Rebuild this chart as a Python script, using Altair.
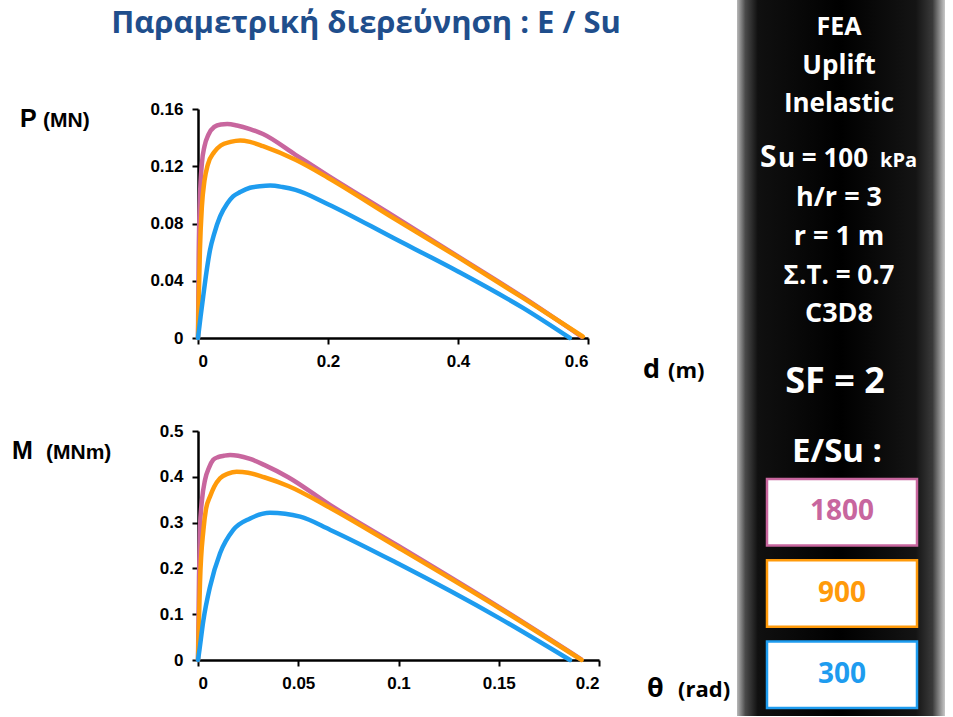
import altair as alt
import pandas as pd

# ---------------- data ----------------
E_labels = ["1800", "900", "300"]
E_colors = ["#C8669E", "#FF9A0A", "#1E9CEF"]

# P (MN) vs d (m)
d_1800 = [0, 0.001, 0.003, 0.006, 0.01, 0.016, 0.025, 0.035, 0.045, 0.06, 0.08, 0.1, 0.15, 0.2, 0.3, 0.4, 0.5, 0.59]
P_1800 = [0, 0.055, 0.098, 0.122, 0.134, 0.142, 0.1475, 0.1492, 0.1495, 0.1485, 0.146, 0.1425, 0.128, 0.1135, 0.0855, 0.057, 0.0285, 0.001]
d_900 = [0, 0.001, 0.003, 0.006, 0.01, 0.015, 0.025, 0.035, 0.05, 0.065, 0.08, 0.1, 0.15, 0.2, 0.3, 0.4, 0.5, 0.592]
P_900 = [0, 0.025, 0.062, 0.092, 0.110, 0.121, 0.130, 0.1345, 0.137, 0.138, 0.137, 0.134, 0.1245, 0.112, 0.084, 0.0565, 0.028, 0.001]
d_300 = [0, 0.004, 0.008, 0.013, 0.0185, 0.025, 0.034, 0.045, 0.054, 0.065, 0.08, 0.095, 0.111, 0.13, 0.15, 0.2, 0.3, 0.4, 0.5, 0.572]
P_300 = [0, 0.015, 0.029, 0.046, 0.0615, 0.073, 0.085, 0.094, 0.099, 0.102, 0.105, 0.106, 0.1065, 0.1055, 0.1035, 0.0935, 0.070, 0.0465, 0.021, 0.0]

# M (MNm) vs theta (rad)
th_1800 = [0, 0.0005, 0.001, 0.002, 0.0035, 0.0055, 0.0076, 0.01, 0.013, 0.016, 0.02, 0.026, 0.033, 0.045, 0.066, 0.1, 0.15, 0.191]
M_1800 = [0, 0.18, 0.29, 0.35, 0.393, 0.42, 0.437, 0.443, 0.446, 0.4476, 0.446, 0.439, 0.426, 0.399, 0.338, 0.249, 0.116, 0.002]
th_900 = [0, 0.0005, 0.001, 0.0027, 0.004, 0.006, 0.008, 0.011, 0.015, 0.0193, 0.025, 0.033, 0.045, 0.066, 0.1, 0.15, 0.1913]
M_900 = [0, 0.09, 0.17, 0.284, 0.33, 0.357, 0.378, 0.397, 0.407, 0.411, 0.409, 0.399, 0.380, 0.332, 0.245, 0.114, 0.0]
th_300 = [0, 0.0005, 0.0027, 0.006, 0.011, 0.0176, 0.026, 0.0359, 0.051, 0.066, 0.1, 0.15, 0.1855]
M_300 = [0, 0.015, 0.087, 0.160, 0.233, 0.284, 0.309, 0.3216, 0.313, 0.284, 0.210, 0.092, 0.0]

x_top_ticks = [0, 0.2, 0.4, 0.6]
y_top_ticks = [0, 0.04, 0.08, 0.12, 0.16]
x_bot_ticks = [0, 0.05, 0.1, 0.15, 0.2]
y_bot_ticks = [0, 0.1, 0.2, 0.3, 0.4, 0.5]

title_text = "Παραμετρική διερεύνηση : E / Su"


def frame(xs, ys, label, xn, yn):
    return pd.DataFrame({xn: xs, yn: ys, "E": label})


top_df = pd.concat([frame(d_1800, P_1800, "1800", "d", "P"),
                    frame(d_900, P_900, "900", "d", "P"),
                    frame(d_300, P_300, "300", "d", "P")], ignore_index=True)
bot_df = pd.concat([frame(th_1800, M_1800, "1800", "th", "M"),
                    frame(th_900, M_900, "900", "th", "M"),
                    frame(th_300, M_300, "300", "th", "M")], ignore_index=True)
legend_df = pd.DataFrame({"E": E_labels})
one = pd.DataFrame({"a": [0]})

# ---------------- helpers ----------------
cscale = alt.Scale(domain=E_labels, range=E_colors)
AX = dict(domainColor="black", domainWidth=2.5, tickColor="black", tickWidth=2,
          tickSize=6, labelFont="Liberation Sans", labelFontWeight="bold",
          labelFontSize=17, labelColor="black", grid=False, title=None, format="~g")


def txt(text, x, y, size, color="black", font="Open Sans", align="left",
        baseline="alphabetic", weight="bold"):
    return alt.Chart(one).mark_text(
        text=text, font=font, fontSize=size, fontWeight=weight, color=color,
        align=align, baseline=baseline
    ).encode(x=alt.value(x), y=alt.value(y))


def lines(df, xf, yf, xdom, ydom, xt, yt, w):
    return alt.Chart(df).mark_line(strokeWidth=4.5, strokeCap="round", strokeJoin="round",
                                   interpolate="monotone").encode(
        x=alt.X(f"{xf}:Q", scale=alt.Scale(domain=xdom, nice=False),
                axis=alt.Axis(values=xt, labelPadding=9, **AX)),
        y=alt.Y(f"{yf}:Q", scale=alt.Scale(domain=ydom, nice=False),
                axis=alt.Axis(values=yt, labelPadding=9, **AX)),
        color=alt.Color("E:N", scale=cscale, legend=None),
    ).properties(width=w, height=229)


top = alt.layer(
    lines(top_df, "d", "P", [0, 0.6], [0, 0.16], x_top_ticks, y_top_ticks, 390),
    txt(title_text, 168, -76, 31, color="#1F4E8C", align="center"),
    txt("P", -178, 18, 25, font="Liberation Sans"),
    txt("(MN)", -155, 18, 21, font="Liberation Sans"),
    txt("d", 445, 269, 27),
    txt("(m)", 470, 269, 22),
)

bottom = alt.layer(
    lines(bot_df, "th", "M", [0, 0.2], [0, 0.5], x_bot_ticks, y_bot_ticks, 401),
    txt("M", -186, 28, 25, font="Liberation Sans"),
    txt("(MNm)", -152, 28, 21, font="Liberation Sans"),
    txt("θ", 449, 266, 27),
    txt("(rad)", 480, 266, 22),
)

grad = alt.Gradient(
    gradient="linear", x1=0, x2=1, y1=0, y2=0,
    stops=[alt.GradientStop(offset=0, color="#b8b8b8"),
           alt.GradientStop(offset=0.04, color="#4a4a4a"),
           alt.GradientStop(offset=0.10, color="#101010"),
           alt.GradientStop(offset=0.5, color="#000000"),
           alt.GradientStop(offset=0.86, color="#141414"),
           alt.GradientStop(offset=0.94, color="#3a3a3a"),
           alt.GradientStop(offset=1, color="#c8c8c8")],
)

bg = alt.Chart(one).mark_rect(fill=grad).encode(
    x=alt.value(0), x2=alt.value(208), y=alt.value(-109), y2=alt.value(607))

ybox = alt.Y("E:N", scale=alt.Scale(domain=E_labels, range=[370, 599],
                                     paddingInner=0.18, paddingOuter=0), axis=None)
boxes = alt.Chart(legend_df).mark_rect(fill="white", strokeWidth=2.5).encode(
    x=alt.value(30), x2=alt.value(180), y=ybox,
    stroke=alt.Stroke("E:N", scale=cscale, legend=None))
box_text = alt.Chart(legend_df).mark_text(
    font="Open Sans", fontSize=28, fontWeight="bold", baseline="middle", align="center"
).encode(x=alt.value(105), y=ybox, text="E:N",
         color=alt.Color("E:N", scale=cscale, legend=None))

W = "white"
CX = 102
panel = alt.layer(
    bg,
    txt("FEA", CX, -74, 25, W, align="center"),
    txt("Uplift", CX, -35, 26, W, align="center"),
    txt("Inelastic", CX, 3, 26, W, align="center"),
    txt("S", 23, 58, 30, W),
    txt("u = 100", 41, 58, 26, W),
    txt("kPa", 143, 58, 20, W),
    txt("h/r = 3", CX, 97, 27, W, align="center"),
    txt("r = 1 m", CX, 136, 27, W, align="center"),
    txt("Σ.Τ. = 0.7", CX, 175, 26, W, align="center"),
    txt("C3D8", CX, 213, 27, W, align="center"),
    txt("SF = 2", 98, 284, 36, W, align="center"),
    txt("E/Su :", 100, 353, 33, W, align="center"),
    boxes,
    box_text,
).properties(width=208, height=551)

left = alt.vconcat(top, bottom, spacing=93, bounds="flush")
chart = alt.hconcat(left, panel, spacing=539, bounds="flush").properties(
    padding={"left": 12, "top": 0, "right": 8, "bottom": 0}
).configure_view(stroke=None)

chart.save("out.html", embed_options={"renderer": "svg", "actions": False})
